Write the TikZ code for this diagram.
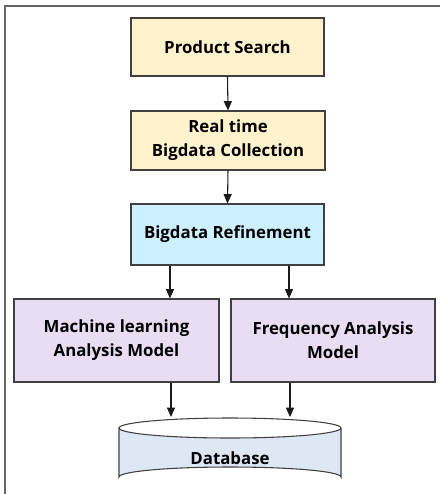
\documentclass[tikz,border=0pt]{standalone}
\usepackage{fontspec}
\setmainfont{Open Sans}
\usetikzlibrary{arrows.meta}
\definecolor{yel}{HTML}{FFF2CC}
\definecolor{cya}{HTML}{CCF0FF}
\definecolor{pur}{HTML}{E9DDF3}
\definecolor{dbc}{HTML}{DEE8F4}
\definecolor{edge}{HTML}{404040}
\definecolor{arrc}{HTML}{1A1A1A}
\begin{document}
\begin{tikzpicture}[x=0.75pt,y=-0.75pt,
  txt/.style={font=\fontsize{12.6}{18}\selectfont\bfseries},
  boxst/.style={txt, draw=edge, line width=0.8pt, inner sep=0pt, align=center},
  arr/.style={draw=arrc, line width=0.8pt, -{Triangle[width=6pt,length=7pt]}}]
\useasboundingbox (0,0) rectangle (440,494);
\draw[edge!80, line width=0.8pt] (5,494) -- (5,6) -- (440,6);
\node[boxst, fill=yel, minimum width=193*0.75pt, minimum height=58*0.75pt] (ps) at (227.5,47) {Product Search};
\node[boxst, fill=yel, minimum width=194*0.75pt, minimum height=59*0.75pt] (rt) at (228,140.5) {Real time\\Bigdata Collection};
\node[boxst, fill=cya, minimum width=193*0.75pt, minimum height=61*0.75pt] (br) at (227.5,234.5) {Bigdata Refinement};
\node[boxst, fill=pur, minimum width=205*0.75pt, minimum height=83*0.75pt] (ml) at (116.5,340.5) {Machine learning\\Analysis Model};
\node[boxst, fill=pur, minimum width=204*0.75pt, minimum height=83*0.75pt] (fa) at (333,340.5) {Frequency Analysis\\Model};
% database cylinder
\fill[dbc] (119,428) -- (119,477) arc[start angle=180,end angle=360,x radius=111,y radius=10] -- (341,428) arc[start angle=0,end angle=180,x radius=111,y radius=10];
\draw[edge, line width=0.8pt] (119,428) -- (119,477) arc[start angle=180,end angle=360,x radius=111,y radius=10] -- (341,428);
\draw[edge, line width=0.8pt] (230,428) ellipse[x radius=111,y radius=10];
\node[txt] (db) at (230,458) {Database};
\coordinate (dbl) at (171,417);
\coordinate (dbr) at (290,417);
\draw[arr] (ps.south) -- (rt.north);
\draw[arr] (rt.south) -- (br.north);
\draw[arr] (170,0 |- br.south) -- (170,0 |- ml.north);
\draw[arr] (289,0 |- br.south) -- (289,0 |- fa.north);
\draw[arr] (171,0 |- ml.south) -- (dbl);
\draw[arr] (290,0 |- fa.south) -- (dbr);
\end{tikzpicture}
\end{document}
